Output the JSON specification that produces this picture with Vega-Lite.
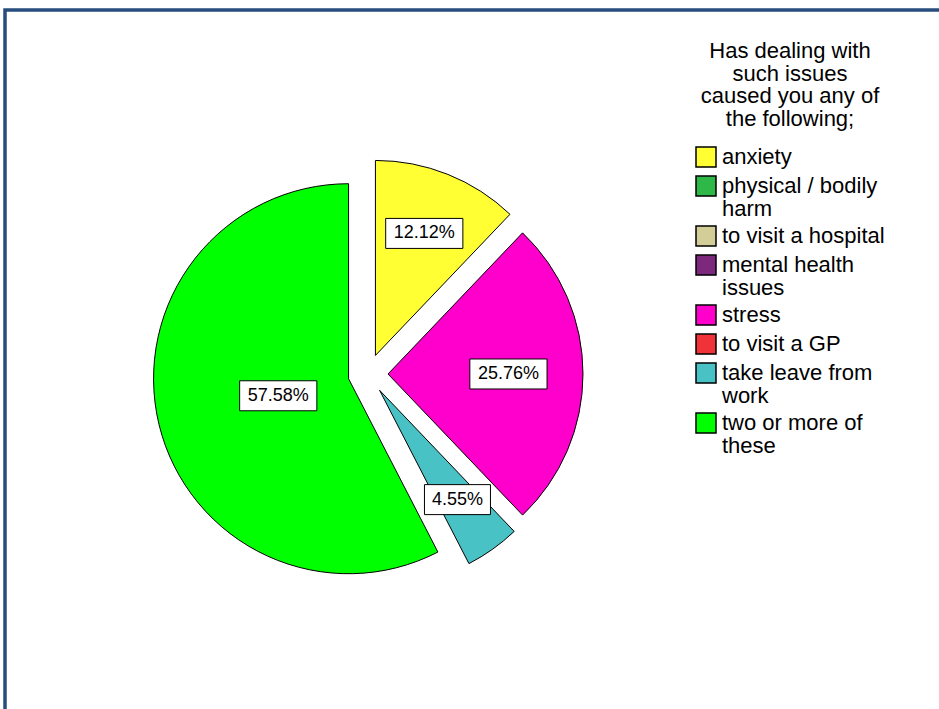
{
  "$schema": "https://vega.github.io/schema/vega-lite/v6.json",
  "autosize": {"type": "fit", "contains": "padding"},
  "width": 939,
  "height": 709,
  "padding": {"left": 5, "top": 10, "right": -10, "bottom": -10},
  "background": "white",
  "config": {
    "view": {"stroke": "#274D7E", "strokeWidth": 3.5},
    "font": "Liberation Sans"
  },
  "data": {
    "values": [
      {"category": "anxiety", "percent": 12.12},
      {"category": "physical / bodily harm", "percent": 0},
      {"category": "to visit a hospital", "percent": 0},
      {"category": "mental health issues", "percent": 0},
      {"category": "stress", "percent": 25.76},
      {"category": "to visit a GP", "percent": 0},
      {"category": "take leave from work", "percent": 4.55},
      {"category": "two or more of these", "percent": 57.58}
    ]
  },
  "transform": [
    {"window": [{"op": "row_number", "as": "idx"}]},
    {"filter": "datum.percent > 0"},
    {"joinaggregate": [{"op": "sum", "field": "percent", "as": "total"}]},
    {"window": [{"op": "sum", "field": "percent", "as": "cum"}], "sort": [{"field": "idx"}], "frame": [null, 0]},
    {"calculate": "2*PI*(datum.cum - datum.percent)/datum.total", "as": "a0"},
    {"calculate": "2*PI*datum.cum/datum.total", "as": "a1"},
    {"calculate": "(datum.a0 + datum.a1)/2", "as": "mid"},
    {"calculate": "20*sin(datum.mid)", "as": "ex"},
    {"calculate": "-20*cos(datum.mid)", "as": "ey"},
    {"calculate": "4*202*sin((datum.a1 - datum.a0)/2)/(3*(datum.a1 - datum.a0))", "as": "cd"},
    {"calculate": "datum.ex + datum.cd*sin(datum.mid)", "as": "lx"},
    {"calculate": "datum.ey - datum.cd*cos(datum.mid)", "as": "ly"},
    {"calculate": "format(datum.percent, '.2f') + '%'", "as": "label"},
    {"calculate": "length(datum.label)*5.6 + 5", "as": "hw"},
    {"calculate": "datum.lx - datum.hw", "as": "bx0"},
    {"calculate": "datum.lx + datum.hw", "as": "bx1"},
    {"calculate": "datum.ly - 15", "as": "by0"},
    {"calculate": "datum.ly + 15", "as": "by1"}
  ],
  "layer": [
    {
      "mark": {"type": "arc", "outerRadius": 195, "stroke": "black", "strokeWidth": 1},
      "encoding": {
        "theta": {"field": "a0", "type": "quantitative", "scale": null, "stack": null},
        "theta2": {"field": "a1"},
        "x": {"field": "ex", "type": "quantitative", "axis": null, "scale": {"domain": [-363, 581], "nice": false, "zero": false}},
        "y": {"field": "ey", "type": "quantitative", "axis": null, "scale": {"domain": [-364, 345], "reverse": true, "nice": false, "zero": false}},
        "color": {
          "field": "category",
          "type": "nominal",
          "scale": {
            "domain": ["anxiety", "physical / bodily harm", "to visit a hospital", "mental health issues", "stress", "to visit a GP", "take leave from work", "two or more of these"],
            "range": ["#FFFF33", "#2EB848", "#D3CE97", "#7C287D", "#FF00CC", "#EF3338", "#48C2C5", "#00FF00"]
          },
          "legend": {
            "title": ["Has dealing with", "such issues", "caused you any of", "the following;"],
            "orient": "none",
            "legendX": 690,
            "legendY": 31,
            "titleAnchor": "middle",
            "titleAlign": "center",
            "titleFont": "Liberation Sans",
            "titleFontSize": 22,
            "titleFontWeight": "normal",
            "titleColor": "black",
            "titleLineHeight": 22.7,
            "titlePadding": 15,
            "titleLimit": 400,
            "labelFont": "Liberation Sans",
            "labelFontSize": 22,
            "labelColor": "black",
            "labelOffset": 5,
            "labelLimit": 400,
            "symbolType": "square",
            "symbolSize": 400,
            "symbolStrokeColor": "black",
            "symbolStrokeWidth": 1.5,
            "symbolOpacity": 1,
            "rowPadding": 3,
            "labelExpr": "datum.label == 'physical / bodily harm' ? ['physical / bodily', 'harm'] : datum.label == 'mental health issues' ? ['mental health', 'issues'] : datum.label == 'take leave from work' ? ['take leave from', 'work'] : datum.label == 'two or more of these' ? ['two or more of', 'these'] : datum.label",
            "encode": {"labels": {"update": {"lineHeight": {"value": 23}}}}
          }
        }
      }
    },
    {
      "mark": {"type": "rect", "fill": "white", "stroke": "black", "strokeWidth": 1},
      "encoding": {
        "x": {"field": "bx0", "type": "quantitative"},
        "x2": {"field": "bx1"},
        "y": {"field": "by0", "type": "quantitative"},
        "y2": {"field": "by1"}
      }
    },
    {
      "mark": {"type": "text", "font": "Liberation Sans", "fontSize": 18, "color": "black", "align": "center", "baseline": "middle"},
      "encoding": {
        "x": {"field": "lx", "type": "quantitative"},
        "y": {"field": "ly", "type": "quantitative"},
        "text": {"field": "label"}
      }
    }
  ]
}
